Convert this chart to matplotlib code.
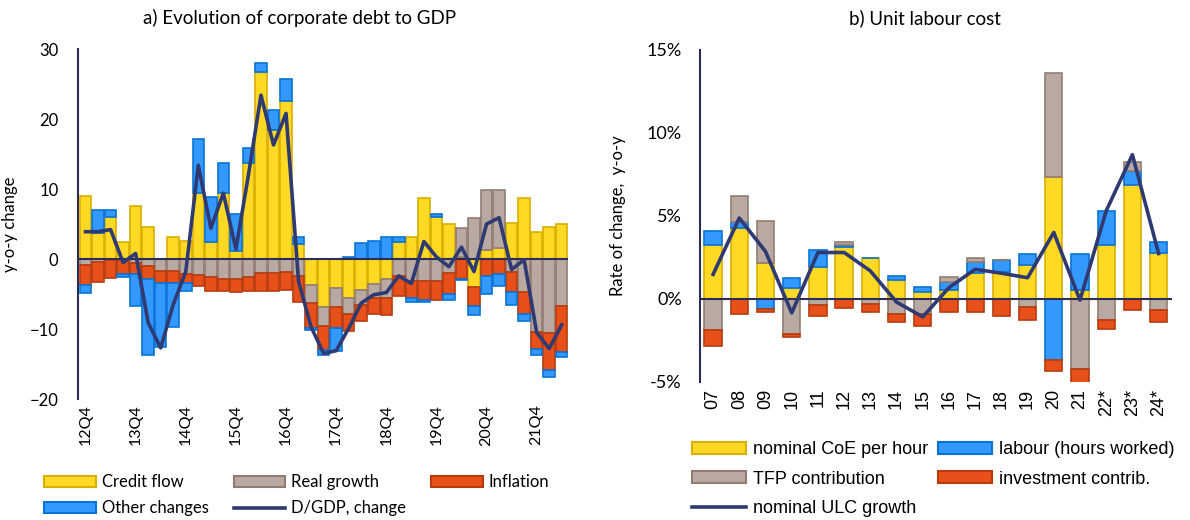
import numpy as np
import matplotlib.pyplot as plt
from matplotlib.patches import Patch
from matplotlib.lines import Line2D
from matplotlib.ticker import FuncFormatter

# ---- data: a) corporate debt to GDP, y-o-y change ----
quarters = ["12Q4", "13Q1", "13Q2", "13Q3", "13Q4", "14Q1", "14Q2", "14Q3", "14Q4",
            "15Q1", "15Q2", "15Q3", "15Q4", "16Q1", "16Q2", "16Q3", "16Q4",
            "17Q1", "17Q2", "17Q3", "17Q4", "18Q1", "18Q2", "18Q3", "18Q4",
            "19Q1", "19Q2", "19Q3", "19Q4", "20Q1", "20Q2", "20Q3", "20Q4",
            "21Q1", "21Q2", "21Q3", "21Q4", "22Q1", "22Q2"]
credit_flow = [9.0, 3.7, 6.0, 2.4, 7.6, 4.6, 0.0, 3.2, 2.6, 9.5, 2.5, 9.4, 1.1, 13.7,
               26.7, 18.5, 22.6, 2.2, -3.7, -6.8, -4.1, -5.5, -4.4, -3.5, -2.8, 2.5,
               3.2, 8.7, 6.0, 5.0, 0.3, -4.0, 1.3, 1.6, 5.2, 8.7, 3.8, 4.6, 5.0]
real_growth = [-0.8, -0.4, -0.2, -0.2, -0.5, -1.0, -1.7, -1.7, -2.2, -2.3, -2.6, -2.9,
               -2.9, -2.6, -2.0, -2.0, -1.8, -2.4, -2.6, -2.8, -2.7, -2.4, -2.2, -2.1,
               -2.8, -2.4, -3.2, -3.2, -3.2, -2.0, 4.1, 5.8, 8.6, 8.3, -1.8, -4.7,
               -10.4, -10.6, -6.7]
inflation = [-2.9, -2.9, -2.5, -2.0, -1.7, -1.8, -1.7, -1.7, -1.2, -1.5, -1.9, -1.6,
             -1.8, -2.0, -2.6, -2.6, -2.6, -3.7, -3.5, -3.4, -3.1, -2.4, -2.3, -2.2,
             -2.4, -2.9, -2.3, -2.7, -2.7, -3.0, -2.8, -2.7, -2.4, -2.2, -2.9, -3.2,
             -2.5, -5.2, -6.6]
other_changes = [-1.2, 3.3, 1.0, -0.4, -4.5, -10.9, -9.2, -6.3, -1.1, 7.6, 6.3, 4.3,
                 5.3, 2.1, 1.3, 2.8, 3.1, 1.0, -0.4, -0.7, -3.3, 0.3, 2.3, 2.6, 3.2,
                 0.7, -0.7, -0.3, 0.4, -0.9, -0.2, -1.3, -2.6, -1.7, -1.8, -0.9, -0.8,
                 -1.1, -0.7]
dgdp_change = [3.9, 3.9, 4.2, -0.5, 0.8, -9.1, -12.7, -6.5, -1.8, 13.4, 4.4, 9.4, 1.4,
               12.0, 23.4, 16.3, 20.8, -3.2, -9.7, -13.5, -13.1, -9.9, -6.3, -5.1, -4.8,
               -2.4, -3.5, 2.5, 0.3, -1.1, 1.7, -1.8, 5.0, 5.9, -1.5, -0.1, -10.5,
               -12.8, -9.4]

# ---- data: b) unit labour cost, % ----
years = ["07", "08", "09", "10", "11", "12", "13", "14", "15", "16", "17", "18",
         "19", "20", "21", "22*", "23*", "24*"]
coe_per_hour = [3.25, 4.26, 2.18, 0.67, 1.92, 3.13, 2.44, 1.15, 0.42, 0.53, 1.54,
                1.64, 2.02, 7.33, 0.53, 3.25, 6.83, 2.75]
labour_hours = [0.81, 0.34, -0.60, 0.56, 1.05, 0.12, 0.0, 0.20, 0.31, 0.50, 0.70,
                0.70, 0.67, -3.72, 2.16, 2.02, 0.87, 0.68]
tfp_contrib = [-1.86, 1.58, 2.49, -2.10, -0.38, 0.20, -0.34, -0.89, -0.89, 0.30,
               0.24, 0.0, -0.48, 6.27, -4.22, -1.25, 0.54, -0.65]
invest_contrib = [-1.01, -0.91, -0.19, -0.20, -0.67, -0.55, -0.45, -0.52, -0.77,
                  -0.81, -0.79, -1.05, -0.81, -0.66, -0.91, -0.55, -0.65, -0.76]
ulc_growth = [1.47, 4.87, 2.85, -0.85, 2.79, 2.79, 1.68, -0.20, -1.09, 0.67, 1.78,
              1.54, 1.27, 4.00, -0.08, 5.30, 8.69, 2.73]

YELLOW = ("#FFD923", "#D9B000")
GREY = ("#B8A9A2", "#937D72")
RED = ("#E8501A", "#B83C0E")
BLUE = ("#3399FF", "#0A74D6")
NAVY = "#2F3A72"
AXIS = "#2B2D55"

plt.rcParams["font.family"] = ["Lato", "DejaVu Sans"]


def stacked_bars(ax, x, series, styles, width):
    pos = np.zeros(len(x))
    neg = np.zeros(len(x))
    for vals, (fc, ec) in zip(series, styles):
        v = np.asarray(vals, dtype=float)
        bottom = np.where(v >= 0, pos, neg)
        ax.bar(x, v, width=width, bottom=bottom, color=fc, edgecolor=ec,
               linewidth=1.2, zorder=2)
        pos = pos + np.where(v >= 0, v, 0)
        neg = neg + np.where(v < 0, v, 0)


def patch(style):
    return Patch(facecolor=style[0], edgecolor=style[1], linewidth=1.5)


fig = plt.figure(figsize=(11.9, 5.2), dpi=100)

# =========================
# a) left panel
# =========================
ax1 = fig.add_axes([78 / 1190, 1 - 399 / 520, 490 / 1190, 350 / 520])
xa = np.arange(len(quarters))
stacked_bars(ax1, xa, [credit_flow, real_growth, inflation, other_changes],
             [YELLOW, GREY, RED, BLUE], width=0.92)
ax1.axhline(0, color=AXIS, linewidth=1.5, zorder=3)
ax1.plot(xa, dgdp_change, color=NAVY, linewidth=2.6, zorder=4)

ax1.set_xlim(-0.6, len(quarters) - 0.5)
ax1.set_ylim(-20, 30)
ax1.set_yticks([-20, -10, 0, 10, 20, 30])
ax1.set_xticks(xa[::4])
ax1.set_xticklabels(quarters[::4], rotation=90, fontsize=11.5)
ax1.tick_params(axis="x", length=0, pad=4)
ax1.tick_params(axis="y", length=0, pad=14, labelsize=12)
for side in ["top", "right", "bottom"]:
    ax1.spines[side].set_visible(False)
ax1.spines["left"].set_color(AXIS)
ax1.spines["left"].set_linewidth(1.5)
ax1.set_ylabel("y-o-y change", fontsize=12)
ax1.yaxis.set_label_coords(-0.122, 0.5)
fig.text(300 / 1190, 1 - 18 / 520, "a) Evolution of corporate debt to GDP",
         ha="center", va="center", fontsize=13.5)

# legend filled column by column -> order chosen so rows read like the original
handles_a = [patch(YELLOW), patch(BLUE), patch(GREY),
             Line2D([], [], color=NAVY, linewidth=2.6), patch(RED)]
labels_a = ["Credit flow", "Other changes", "Real growth", "D/GDP, change", "Inflation"]
fig.legend(handles_a, labels_a, ncol=3, loc="upper left",
           bbox_to_anchor=(36 / 1190, 1 - 466 / 520), frameon=False, fontsize=12,
           handlelength=3.1, handleheight=0.7, handletextpad=0.35,
           columnspacing=1.5, labelspacing=0.6, borderpad=0)

# =========================
# b) right panel
# =========================
ax2 = fig.add_axes([700 / 1190, 1 - 381.7 / 520, 471.7 / 1190, 331.7 / 520])
xb = np.arange(len(years))
stacked_bars(ax2, xb, [coe_per_hour, labour_hours, tfp_contrib, invest_contrib],
             [YELLOW, BLUE, GREY, RED], width=0.66)
ax2.axhline(0, color=AXIS, linewidth=1.5, zorder=3)
ax2.plot(xb, ulc_growth, color=NAVY, linewidth=2.6, zorder=4)

ax2.set_xlim(-0.5, len(years) - 0.5)
ax2.set_ylim(-5, 15)
ax2.set_yticks([-5, 0, 5, 10, 15])
ax2.yaxis.set_major_formatter(FuncFormatter(lambda v, p: f"{v:.0f}%"))
ax2.set_xticks(xb)
ax2.set_xticklabels(years, rotation=90, fontsize=13, family="Liberation Sans")
ax2.tick_params(axis="x", length=0, pad=5)
ax2.tick_params(axis="y", length=0, pad=13, labelsize=13)
for side in ["top", "right", "bottom"]:
    ax2.spines[side].set_visible(False)
ax2.spines["left"].set_color(AXIS)
ax2.spines["left"].set_linewidth(1.5)
ax2.set_ylabel("Rate of change,  y-o-y", fontsize=12)
ax2.yaxis.set_label_coords(-0.157, 0.5)
fig.text(925 / 1190, 1 - 18 / 520, "b) Unit labour cost",
         ha="center", va="center", fontsize=13.5)

handles_b = [patch(YELLOW), patch(GREY), Line2D([], [], color=NAVY, linewidth=2.6),
             patch(BLUE), patch(RED)]
labels_b = ["nominal CoE per hour", "TFP contribution", "nominal ULC growth",
            "labour (hours worked)", "investment contrib."]
fig.legend(handles_b, labels_b, ncol=2, loc="upper left",
           bbox_to_anchor=(683 / 1190, 1 - 432 / 520), frameon=False,
           prop={"family": "Liberation Sans", "size": 13},
           handlelength=3.0, handleheight=0.65, handletextpad=0.4,
           columnspacing=0.5, labelspacing=0.7, borderpad=0)

fig.savefig("out.png", dpi=100)
